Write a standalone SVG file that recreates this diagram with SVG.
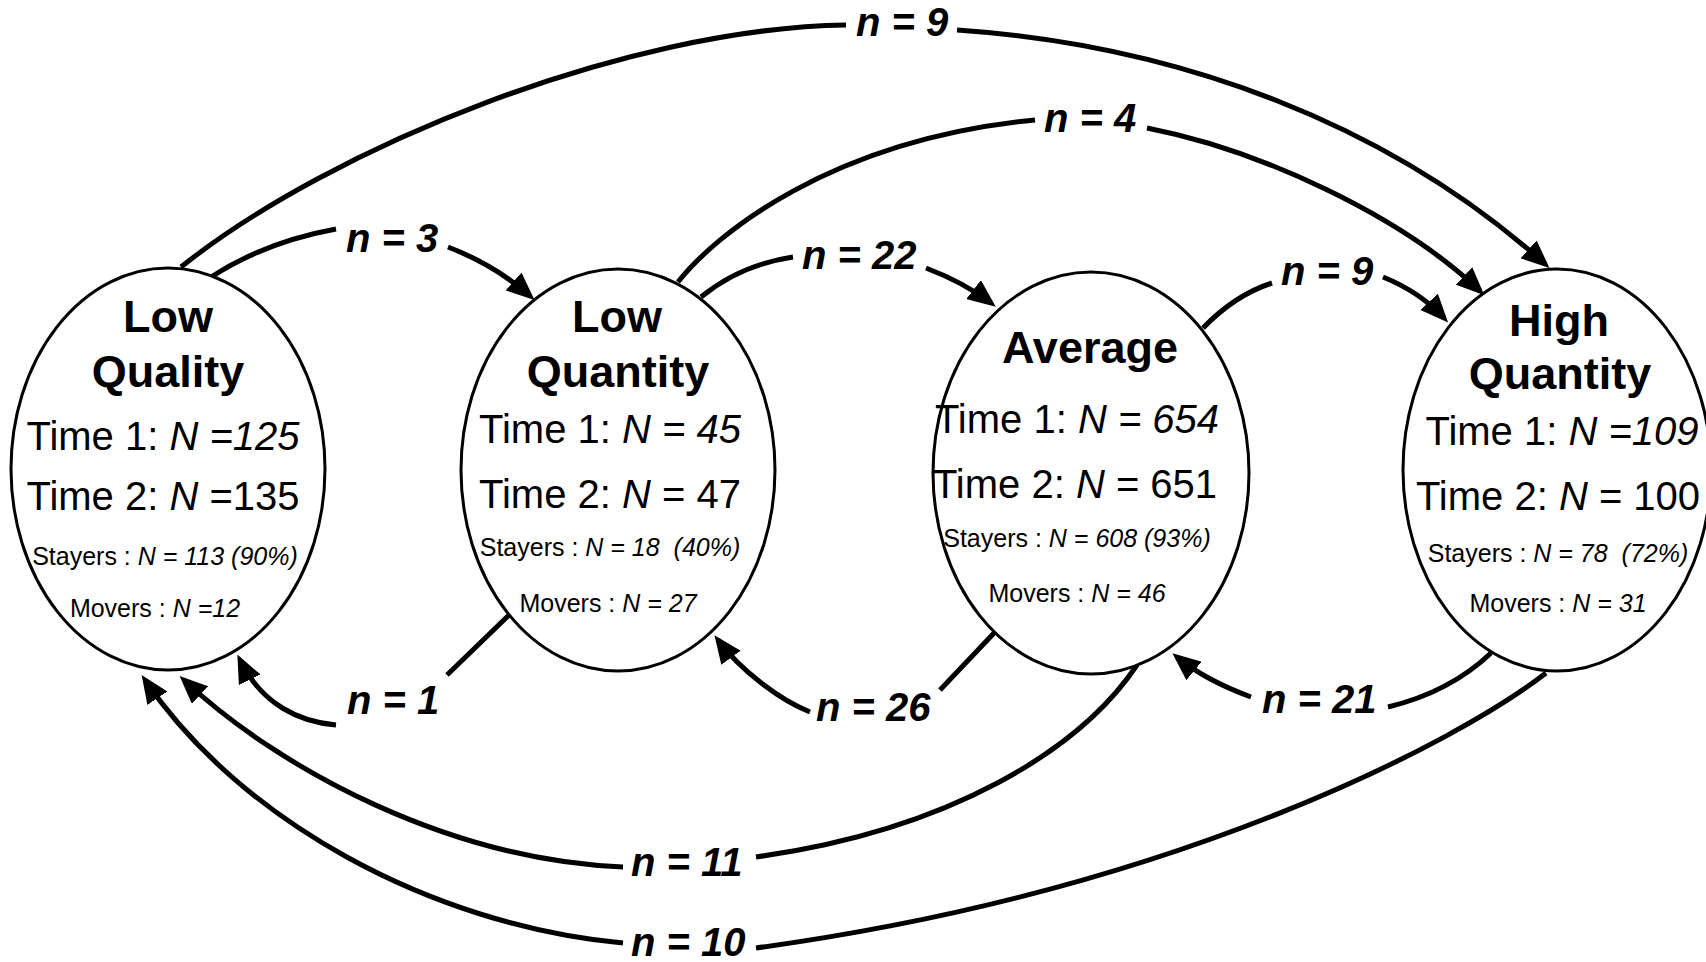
<svg xmlns="http://www.w3.org/2000/svg" width="1706" height="962" viewBox="0 0 1706 962">
<style>
.bg{fill:#fff}
.node ellipse{fill:#fff;stroke:#000;stroke-width:3}
.title{font-family:"Liberation Sans",Arial,sans-serif;font-weight:bold;font-size:45px;text-anchor:middle;fill:#000}
.time{font-family:"Liberation Sans",Arial,sans-serif;font-size:40px;text-anchor:middle;fill:#000}
.small{font-family:"Liberation Sans",Arial,sans-serif;font-size:25px;text-anchor:middle;fill:#000}
.i{font-style:italic}
.edge{fill:none;stroke:#000;stroke-width:5}
.lbl{font-family:"Liberation Sans",Arial,sans-serif;font-weight:bold;font-style:italic;font-size:40px;fill:#000}
</style>
<defs>
<marker id="arr" markerUnits="userSpaceOnUse" markerWidth="28" markerHeight="24" viewBox="0 0 28 24" refX="22" refY="12" orient="auto">
<path d="M0,0 L28,12 L0,24 Z" fill="#000"/>
</marker>
</defs>
<rect class="bg" x="0" y="0" width="1706" height="962"/>
<g id="connectors">
<g id="e-lq-hq">
<path class="edge" d="M181,267 C331,147 626,28 846,25"/>
<path class="edge" marker-end="url(#arr)" d="M957,30 C1180,45 1390,125 1545,264"/>
<text class="lbl" x="856" y="36">n = 9</text>
</g>
<g id="e-lqn-hq">
<path class="edge" d="M678,282 C715,235 830,140 1035,120"/>
<path class="edge" marker-end="url(#arr)" d="M1147,128 C1260,150 1400,215 1480,291"/>
<text class="lbl" x="1044" y="132">n = 4</text>
</g>
<g id="e-lq-lqn">
<path class="edge" d="M211,277 Q265,242 336,229"/>
<path class="edge" marker-end="url(#arr)" d="M448,247 Q495,265 530,296"/>
<text class="lbl" x="346" y="252">n = 3</text>
</g>
<g id="e-lqn-av">
<path class="edge" d="M701,297 Q740,265 793,257"/>
<path class="edge" marker-end="url(#arr)" d="M926,268 Q965,283 991,303"/>
<text class="lbl" x="802" y="269">n = 22</text>
</g>
<g id="e-av-hq">
<path class="edge" d="M1203,328 Q1235,295 1272,283"/>
<path class="edge" marker-end="url(#arr)" d="M1383,277 Q1420,292 1444,318"/>
<text class="lbl" x="1281" y="285">n = 9</text>
</g>
<g id="e-lqn-lq">
<path class="edge" d="M509,615 L447,675"/>
<path class="edge" marker-end="url(#arr)" d="M336,725 C300,722 262,705 240,660"/>
<text class="lbl" x="347" y="714">n = 1</text>
</g>
<g id="e-av-lqn">
<path class="edge" d="M995,632 L940,690"/>
<path class="edge" marker-end="url(#arr)" d="M810,712 C780,700 740,670 718,640"/>
<text class="lbl" x="816" y="721">n = 26</text>
</g>
<g id="e-hq-av">
<path class="edge" d="M1491,653 Q1450,692 1388,707"/>
<path class="edge" marker-end="url(#arr)" d="M1251,697 Q1205,680 1177,657"/>
<text class="lbl" x="1262" y="713">n = 21</text>
</g>
<g id="e-av-lq">
<path class="edge" d="M1137,665 C1080,750 950,830 756,857"/>
<path class="edge" marker-end="url(#arr)" d="M623,867 C450,860 280,770 184,680"/>
<text class="lbl" x="631" y="876">n = 11</text>
</g>
<g id="e-hq-lq">
<path class="edge" d="M1546,673 C1460,740 1180,890 756,948"/>
<path class="edge" marker-end="url(#arr)" d="M623,943 C430,925 240,820 145,680"/>
<text class="lbl" x="631" y="956">n = 10</text>
</g>
</g>
<g id="node-low-quality" class="node">
<ellipse cx="168" cy="469" rx="157" ry="201"/>
<text class="title" x="168" y="332">Low</text>
<text class="title" x="168" y="387">Quality</text>
<text class="time" x="163" y="450">Time 1: <tspan class="i">N =125</tspan></text>
<text class="time" x="163" y="510">Time 2: <tspan class="i">N</tspan> =135</text>
<text class="small" x="165" y="565">Stayers : <tspan class="i">N = 113 (90%)</tspan></text>
<text class="small" x="155" y="617">Movers : <tspan class="i">N =12</tspan></text>
</g>
<g id="node-low-quantity" class="node">
<ellipse cx="618" cy="470" rx="157" ry="201"/>
<text class="title" x="617" y="332">Low</text>
<text class="title" x="618" y="387">Quantity</text>
<text class="time" x="610" y="443">Time 1: <tspan class="i">N = 45</tspan></text>
<text class="time" x="610" y="508">Time 2: <tspan class="i">N</tspan> = 47</text>
<text class="small" x="610" y="556">Stayers : <tspan class="i">N = 18&#160; (40%)</tspan></text>
<text class="small" x="608" y="612">Movers : <tspan class="i">N = 27</tspan></text>
</g>
<g id="node-average" class="node">
<ellipse cx="1091" cy="473" rx="158" ry="201"/>
<text class="title" x="1090" y="363">Average</text>
<text class="time" x="1077" y="433">Time 1: <tspan class="i">N = 654</tspan></text>
<text class="time" x="1075" y="498">Time 2: <tspan class="i">N</tspan> = 651</text>
<text class="small" x="1077" y="547">Stayers : <tspan class="i">N = 608 (93%)</tspan></text>
<text class="small" x="1077" y="602">Movers : <tspan class="i">N = 46</tspan></text>
</g>
<g id="node-high-quantity" class="node">
<ellipse cx="1557" cy="470" rx="154" ry="201"/>
<text class="title" x="1559" y="336">High</text>
<text class="title" x="1560" y="389">Quantity</text>
<text class="time" x="1562" y="445">Time 1: <tspan class="i">N =109</tspan></text>
<text class="time" x="1558" y="510">Time 2: <tspan class="i">N</tspan> = 100</text>
<text class="small" x="1558" y="562">Stayers : <tspan class="i">N = 78&#160; (72%)</tspan></text>
<text class="small" x="1558" y="612">Movers : <tspan class="i">N = 31</tspan></text>
</g>
</svg>
